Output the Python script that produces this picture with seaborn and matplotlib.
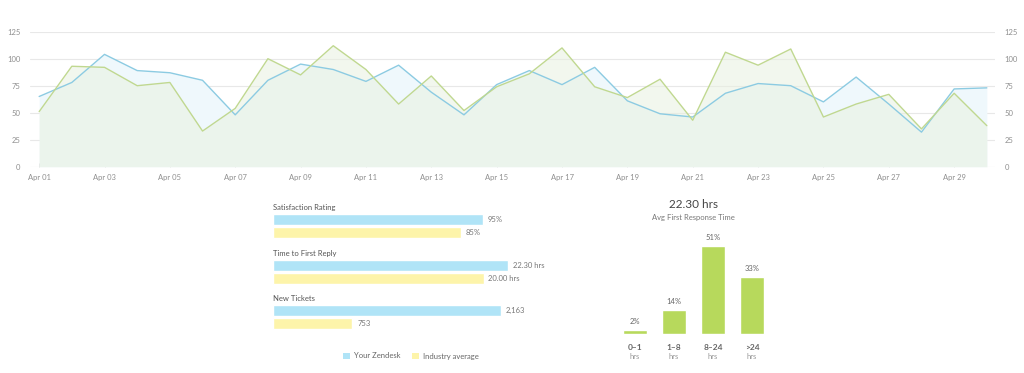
import matplotlib
matplotlib.use("Agg")
import matplotlib.pyplot as plt
from matplotlib.patches import Patch
import seaborn as sns
import pandas as pd
import numpy as np

# ---------------- data ----------------
day_labels = ["Apr %02d" % d for d in range(1, 31)]
your_zendesk = [65, 78, 104, 89, 87, 80, 48, 80, 95, 90,
                79, 94, 69, 48, 76, 89, 76, 92, 61, 49,
                46, 68, 77, 75, 60, 83, 58, 32, 72, 73]
industry_avg = [51, 93, 92, 75, 78, 33, 54, 100, 85, 112,
                90, 58, 84, 52, 74, 86, 110, 74, 64, 81,
                43, 106, 94, 109, 46, 58, 67, 35, 68, 38]
y_ticks = [0, 25, 50, 75, 100, 125]

metrics = ["Satisfaction Rating", "Time to First Reply", "New Tickets"]
metric_zendesk = [95, 22.30, 2163]
metric_industry = [85, 20.00, 753]
metric_zendesk_labels = ["95%", "22.30 hrs", "2,163"]
metric_industry_labels = ["85%", "20.00 hrs", "753"]
series_names = ["Your Zendesk", "Industry average"]

resp_buckets = ["0\u20131", "1\u20138", "8\u201324", ">24"]
resp_pcts = [2, 14, 51, 33]
resp_title = "22.30 hrs"
resp_subtitle = "Avg First Response Time"

# ---------------- style ----------------
sns.set_theme(style="white")
plt.rcParams["font.family"] = ["Lato", "DejaVu Sans"]

BLUE_LINE = "#8ccbe2"
GREEN_LINE = "#c0d890"
BLUE_FILL = "#eff8fc"
GREEN_FILL = "#e8f1e0"
BLUE_BAR = "#b0e4f7"
YELLOW_BAR = "#fdf4aa"
GREEN_BAR = "#b7d95c"
TICK_COL = "#8f8f8f"

W, H = 1024, 373
fig = plt.figure(figsize=(W / 100, H / 100), dpi=100)


def px_axes(left, top, right, bottom):
    return fig.add_axes([left / W, 1 - bottom / H, (right - left) / W, (bottom - top) / H])


# ---------------- top line chart ----------------
df = pd.DataFrame({"day": np.arange(len(day_labels)),
                   "zendesk": your_zendesk,
                   "industry": industry_avg})
ax = px_axes(30, 31.7, 995, 166.7)
ax.fill_between(df["day"], df["zendesk"], color=BLUE_FILL, lw=0, zorder=1)
ax.fill_between(df["day"], df["industry"], color=GREEN_FILL, alpha=0.55, lw=0, zorder=2)
sns.lineplot(data=df, x="day", y="zendesk", color=BLUE_LINE, lw=1.0, ax=ax, zorder=3)
sns.lineplot(data=df, x="day", y="industry", color=GREEN_LINE, lw=1.0, ax=ax, zorder=3)
ax.set_xlim(-0.28, 29.25)
ax.set_ylim(0, 125)
ax.set_yticks(y_ticks)
ax.yaxis.grid(True, color="#e8e8e8", lw=0.8)
ax.set_axisbelow(True)
ax.set_xticks(df["day"][::2])
ax.set_xticklabels(day_labels[::2])
ax.set_xlabel("")
ax.set_ylabel("")
for s in ax.spines.values():
    s.set_visible(False)
ax.tick_params(axis="x", length=3, width=0.6, color="#dddddd", direction="in",
               pad=5, labelsize=5.5, labelcolor=TICK_COL, bottom=True)
ax.tick_params(axis="y", length=0, pad=7, labelsize=5.5, labelcolor=TICK_COL)
ax2 = ax.twinx()
ax2.set_ylim(0, 125)
ax2.set_yticks(y_ticks)
ax2.tick_params(axis="y", length=0, pad=7, labelsize=5.5, labelcolor=TICK_COL)
for s in ax2.spines.values():
    s.set_visible(False)

# ---------------- comparison bars ----------------
bar_rows = [(213, 239), (259, 285), (304, 330)]
bar_xmax = [108.6, 22.8, 2277]
for i, m in enumerate(metrics):
    top, bot = bar_rows[i]
    bax = px_axes(273, top, 513, bot)
    bdf = pd.DataFrame({"series": series_names,
                        "value": [metric_zendesk[i], metric_industry[i]]})
    sns.barplot(data=bdf, y="series", x="value", hue="series",
                palette=[BLUE_BAR, YELLOW_BAR], width=0.9, orient="h",
                dodge=False, saturation=1, legend=False, ax=bax)
    bax.set_xlim(0, bar_xmax[i])
    bax.set_ylim(1.5, -0.5)
    bax.axis("off")
    labels = [metric_zendesk_labels[i], metric_industry_labels[i]]
    for j, v in enumerate(bdf["value"]):
        bax.annotate(labels[j], (v, j), xytext=(3.5, 0), textcoords="offset points",
                     va="center", ha="left", fontsize=5.5, color="#777777")
    bax.annotate(m, (0, 1), xycoords="axes fraction", xytext=(0, 4.3),
                 textcoords="offset points", va="center", ha="left",
                 fontsize=5.5, color="#555555")

handles = [Patch(facecolor=BLUE_BAR, edgecolor="none"),
           Patch(facecolor=YELLOW_BAR, edgecolor="none")]
fig.legend(handles, series_names, loc="center", bbox_to_anchor=(411 / W, 1 - 356 / H),
           ncol=2, frameon=False, fontsize=5.5, handlelength=0.9, handleheight=0.9,
           handletextpad=0.5, columnspacing=1.6, labelcolor="#666666")

# ---------------- response time histogram ----------------
hax = px_axes(615.5, 230, 771.5, 333.7)
hdf = pd.DataFrame({"bucket": resp_buckets, "pct": resp_pcts})
sns.barplot(data=hdf, x="bucket", y="pct", color=GREEN_BAR, width=0.59,
            saturation=1, ax=hax)
hax.set_ylim(0, 60)
hax.set_xlim(-0.5, 3.5)
hax.axis("off")
for i, p in enumerate(resp_pcts):
    hax.annotate("%d%%" % p, (i, p), xytext=(0, 3.5), textcoords="offset points",
                 ha="center", va="bottom", fontsize=5.5, color="#666666")
    hax.annotate(resp_buckets[i], (i, 0), xytext=(0, -9.6), textcoords="offset points",
                 ha="center", va="center", fontsize=6, color="#666666", fontweight="bold")
    hax.annotate("hrs", (i, 0), xytext=(0, -16.2), textcoords="offset points",
                 ha="center", va="center", fontsize=5.5, color="#999999")
fig.text(693.5 / W, 1 - 205 / H, resp_title, ha="center", va="center",
         fontsize=8.5, color="#444444")
fig.text(693.5 / W, 1 - 218 / H, resp_subtitle, ha="center", va="center",
         fontsize=5.5, color="#777777")

fig.savefig("out.png", dpi=100, facecolor="white")
